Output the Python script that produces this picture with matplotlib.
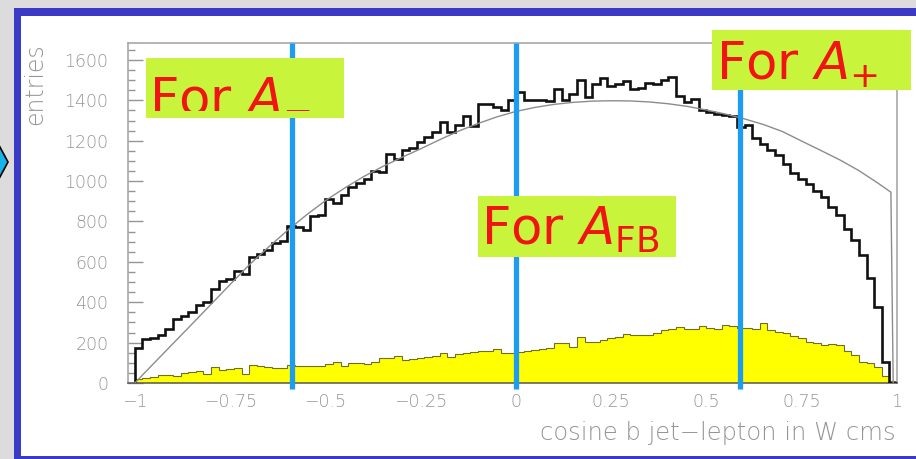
import numpy as np
import matplotlib.pyplot as plt
from matplotlib.patches import Rectangle, Polygon

plt.rcParams['mathtext.fontset'] = 'dejavusans'

W, H = 916, 459

# 100 bins in cos(theta) from -1 to 1
edges = np.linspace(-1.0, 1.0, 101)

# all events (black histogram)
signal = [
    172, 216, 221, 238, 268, 318, 330, 353, 386, 400,
    464, 505, 513, 556, 542, 623, 638, 660, 692, 703,
    780, 772, 760, 827, 832, 910, 890, 930, 970, 990,
    1010, 1050, 1045, 1134, 1108, 1154, 1162, 1195, 1217, 1245,
    1294, 1245, 1278, 1322, 1273, 1380, 1380, 1365, 1352, 1402,
    1441, 1402, 1402, 1402, 1395, 1458, 1400, 1430, 1500, 1415,
    1480, 1512, 1470, 1480, 1495, 1455, 1460, 1488, 1481, 1500,
    1517, 1420, 1390, 1405, 1352, 1344, 1332, 1327, 1322, 1270,
    1278, 1215, 1185, 1156, 1130, 1085, 1038, 1010, 988, 950,
    923, 873, 830, 762, 708, 632, 519, 378, 105, 0,
]

# background component (yellow histogram)
background = [
    20, 27, 31, 38, 42, 36, 48, 56, 60, 46,
    78, 62, 67, 72, 47, 88, 84, 79, 73, 73,
    89, 86, 82, 86, 85, 95, 105, 85, 100, 98,
    92, 104, 126, 122, 135, 113, 117, 125, 129, 133,
    147, 130, 144, 148, 152, 159, 160, 170, 150, 148,
    152, 158, 163, 168, 172, 197, 199, 180, 229, 205,
    203, 215, 225, 230, 245, 236, 236, 236, 249, 264,
    266, 276, 268, 268, 282, 271, 268, 287, 281, 273,
    271, 265, 299, 264, 254, 246, 233, 221, 205, 199,
    188, 192, 188, 160, 140, 105, 97, 81, 37, 8,
]

# fitted curve
fit_x = [
    -1.00, -0.95, -0.90, -0.85, -0.80, -0.75, -0.70, -0.65, -0.60, -0.55,
    -0.50, -0.45, -0.40, -0.35, -0.30, -0.25, -0.20, -0.15, -0.10, -0.05,
    0.00, 0.05, 0.10, 0.15, 0.20, 0.25, 0.30, 0.35, 0.40, 0.45,
    0.50, 0.55, 0.60, 0.65, 0.70, 0.75, 0.80, 0.85, 0.90, 0.95,
    0.984, 0.99,
]
fit_y = [
    0, 98, 195, 292, 390, 488, 585, 672, 755, 832,
    903, 965, 1022, 1072, 1117, 1160, 1205, 1248, 1285, 1318,
    1345, 1365, 1380, 1390, 1396, 1398, 1397, 1392, 1383, 1370,
    1352, 1332, 1308, 1280, 1245, 1198, 1152, 1105, 1052, 990,
    945, 0,
]

cuts = [-0.587, 0.0, 0.587]

x_ticks = [-1, -0.75, -0.5, -0.25, 0, 0.25, 0.5, 0.75, 1]
x_labels = ['\u22121', '\u22120.75', '\u22120.5', '\u22120.25', '0',
            '0.25', '0.5', '0.75', '1']
y_ticks = [0, 200, 400, 600, 800, 1000, 1200, 1400, 1600]


def box(x0, y0, x1, y1):
    # pixel box (top-left origin) -> figure fractions
    return (x0 / W, 1 - y1 / H), (x1 - x0) / W, (y1 - y0) / H


fig = plt.figure(figsize=(W / 100, H / 100), dpi=100, facecolor='#dcdcdc')

# slide frame
xy, w, h = box(14, 8, W + 10, H + 10)
fig.add_artist(Rectangle(xy, w, h, transform=fig.transFigure,
                         facecolor='#3a3ac6', edgecolor='none', zorder=-2))
xy, w, h = box(21, 16, W + 10, 456)
fig.add_artist(Rectangle(xy, w, h, transform=fig.transFigure,
                         facecolor='white', edgecolor='none', zorder=-1))
arrow = [(-6 / W, 1 - 136 / H), (8 / W, 1 - 162 / H), (-6 / W, 1 - 188 / H)]
fig.add_artist(Polygon(arrow, closed=True, transform=fig.transFigure,
                       facecolor='#18b2ea', edgecolor='black', lw=1.2, zorder=1))

ax = fig.add_axes([128 / W, 1 - 383 / H, (897 - 128) / W, (383 - 43) / H])
ax.set_facecolor('white')

ax.stairs(background, edges, baseline=0, fill=True, color='#ffff00', zorder=2)
ax.stairs(background, edges, baseline=0, color='#6e6e2a', lw=0.8, zorder=2.1)
ax.stairs(signal, edges, baseline=0, color='#111111', lw=1.9, zorder=3)
ax.plot(fit_x, fit_y, color='#8c8c8c', lw=1.0, zorder=3.5)

ax.vlines(cuts, -32, 1684, colors='#1e9cf0', lw=3.8, zorder=4, clip_on=False)

ax.set_xlim(-1.018, 1.0)
ax.set_ylim(0, 1684)

grey = '#959595'
for s in ax.spines.values():
    s.set_color('#a0a0a0')
    s.set_linewidth(1.1)
ax.spines['bottom'].set_color('#555555')

ax.set_xticks(x_ticks)
ax.set_xticklabels(x_labels, fontweight='light')
ax.set_yticks(y_ticks)
ax.set_yticklabels([str(v) for v in y_ticks], fontweight='light')
ax.set_yticks(np.arange(0, 1684, 50), minor=True)
ax.tick_params(axis='x', length=0, pad=7, labelsize=12.5, labelcolor=grey)
ax.tick_params(axis='y', which='major', direction='in', length=10.5, width=1,
               color=grey, pad=14, labelsize=12.5, labelcolor=grey)
ax.tick_params(axis='y', which='minor', direction='in', length=5, width=1,
               color=grey)

fig.text(35 / W, 1 - 43 / H, 'entries', rotation=90, ha='center', va='top',
         fontsize=17, color=grey, fontweight='light')
fig.text(896 / W, 1 - 440 / H, 'cosine b jet\u2212lepton in W cms', ha='right',
         va='baseline', fontsize=17.5, color=grey, fontweight='light')

# labels for the three asymmetry regions
green = '#c8f53c'
red = '#f01414'
labels = [
    ((146, 58, 344, 118), (149, 108), 'For $A_{-}$'),
    ((478, 196, 676, 257), (481, 245), 'For $A_{\\mathrm{FB}}$'),
    ((712, 30, 911, 90), (716, 80), 'For $A_{+}$'),
]
for (x0, y0, x1, y1), (tx, ty), s in labels:
    xy, w, h = box(x0, y0, x1, y1)
    fig.add_artist(Rectangle(xy, w, h, transform=fig.transFigure,
                             facecolor=green, edgecolor='none', zorder=5))
    fig.text(tx / W, 1 - ty / H, s, ha='left', va='baseline', fontsize=37,
             color=red, zorder=6)

fig.savefig('out.png', dpi=100, facecolor=fig.get_facecolor())
